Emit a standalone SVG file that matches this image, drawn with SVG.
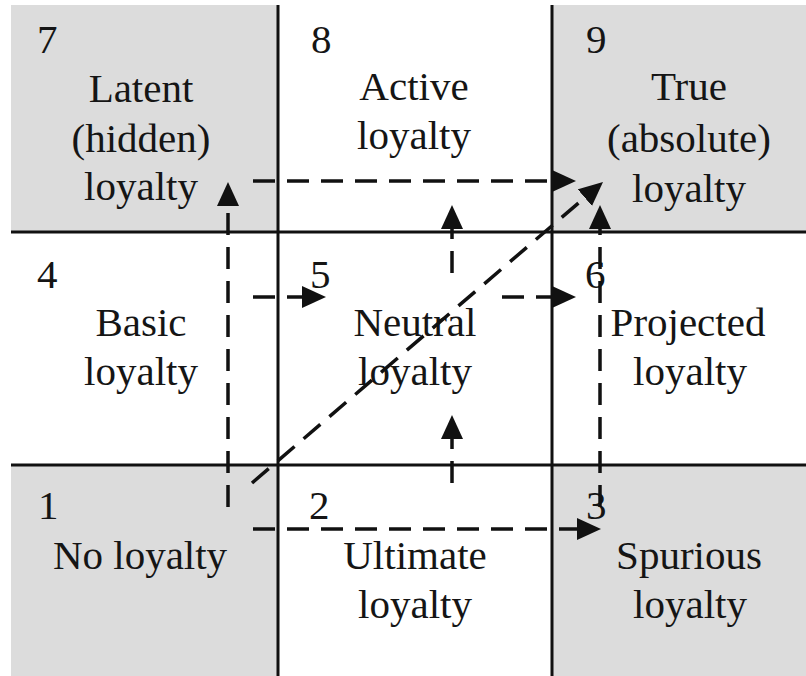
<svg xmlns="http://www.w3.org/2000/svg" width="806" height="676" viewBox="0 0 806 676">
<style>
.grey{fill:#dcdcdc}
.grid{stroke:#111;stroke-width:3;fill:none}
.t{font-family:"Liberation Serif","Times New Roman",serif;font-size:41px;fill:#151515}
.c{text-anchor:middle}
.d{stroke:#111;stroke-width:3.5;fill:none;stroke-dasharray:22 12;marker-end:url(#ah)}
</style>
<defs>
<marker id="ah" markerUnits="userSpaceOnUse" markerWidth="26" markerHeight="24" refX="12" refY="11" orient="auto" viewBox="0 0 26 24">
<path d="M0,0 L24,11 L0,22 z" fill="#111"/>
</marker>
</defs>
<rect width="806" height="676" fill="#fff"/>
<g id="cells">
<rect class="grey" x="11" y="5" width="267" height="227"/>
<rect class="grey" x="552" y="5" width="254" height="227"/>
<rect class="grey" x="11" y="465" width="267" height="211"/>
<rect class="grey" x="552" y="465" width="254" height="211"/>
</g>
<g id="grid">
<line class="grid" x1="278" y1="5" x2="278" y2="676"/>
<line class="grid" x1="552" y1="5" x2="552" y2="676"/>
<line class="grid" x1="11" y1="232" x2="806" y2="232"/>
<line class="grid" x1="11" y1="465" x2="806" y2="465"/>
</g>
<g id="node7"><text class="t" x="37" y="53">7</text><text class="t c" x="141" y="102">Latent</text><text class="t c" x="141" y="152">(hidden)</text><text class="t c" x="141" y="200">loyalty</text></g>
<g id="node8"><text class="t" x="311" y="53">8</text><text class="t c" x="414" y="100">Active</text><text class="t c" x="414" y="149">loyalty</text></g>
<g id="node9"><text class="t" x="586" y="53">9</text><text class="t c" x="689" y="100">True</text><text class="t c" x="689" y="152">(absolute)</text><text class="t c" x="689" y="202">loyalty</text></g>
<g id="node4"><text class="t" x="37" y="288">4</text><text class="t c" x="141" y="336">Basic</text><text class="t c" x="141" y="385">loyalty</text></g>
<g id="node5"><text class="t" x="310" y="288">5</text><text class="t c" x="415" y="336">Neutral</text><text class="t c" x="415" y="385">loyalty</text></g>
<g id="node6"><text class="t" x="585" y="288">6</text><text class="t c" x="688" y="336">Projected</text><text class="t c" x="690" y="385">loyalty</text></g>
<g id="node1"><text class="t" x="38" y="519">1</text><text class="t c" x="140" y="569">No loyalty</text></g>
<g id="node2"><text class="t" x="309" y="519">2</text><text class="t c" x="415" y="569">Ultimate</text><text class="t c" x="415" y="618">loyalty</text></g>
<g id="node3"><text class="t" x="586" y="519">3</text><text class="t c" x="689" y="569">Spurious</text><text class="t c" x="690" y="618">loyalty</text></g>
<g id="connectors">
<line class="d" x1="228" y1="507" x2="228" y2="194"/>
<line class="d" x1="253" y1="181" x2="564" y2="181"/>
<line class="d" x1="253" y1="297" x2="314" y2="297"/>
<line class="d" x1="502" y1="297" x2="564" y2="297"/>
<line class="d" x1="452" y1="273" x2="452" y2="217"/>
<line class="d" x1="252" y1="483" x2="593.9" y2="189.8"/>
<line class="d" x1="600" y1="507" x2="600" y2="217"/>
<line class="d" x1="253" y1="529" x2="589" y2="529"/>
<line class="d" x1="452" y1="483" x2="452" y2="427"/>
</g>
</svg>
